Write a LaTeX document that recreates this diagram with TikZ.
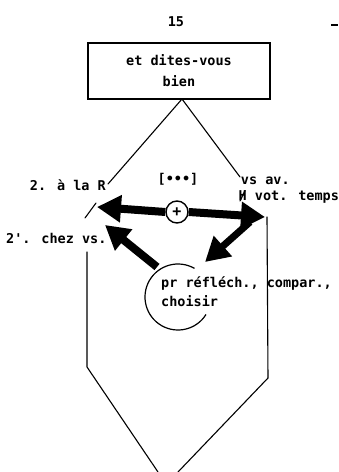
\documentclass[tikz,border=0pt]{standalone}
\usepackage{fontspec}
\setmainfont{DejaVu Sans Mono}
\usetikzlibrary{arrows.meta}
\begin{document}
\begin{tikzpicture}[x=1pt,y=1pt,
  lbl/.style={inner sep=0pt, font=\bfseries\fontsize{13.5}{16}\selectfont},
  edge/.style={line width=1.1pt, line cap=round},
  bigarrow/.style={line width=8pt, -{Triangle[length=24pt,width=26pt]}},
  plusring/.style={circle, draw, line width=1.4pt, fill=white, minimum size=22pt, inner sep=0pt, font=\bfseries\fontsize{15}{15}\selectfont}]
\useasboundingbox (0,0) rectangle (338,472);

% page number and margin mark
\node[lbl] (pg) at (176,450) {15};
\coordinate (mk1) at (331,447);
\coordinate (mk2) at (338,447);
\draw[line width=2.5pt] (mk1) -- (mk2);

% title box
\node[draw, line width=1.2pt, minimum width=182pt, minimum height=56pt, align=center,
      font=\bfseries\fontsize{13.5}{21}\selectfont] (box) at (179,401) {et dites-vous\\bien};

% outline of the hexagon
\coordinate (apex) at (182,373);
\coordinate (L1) at (108,288);
\coordinate (T1) at (96,269);
\coordinate (T2) at (85,254);
\coordinate (L2) at (87,220);
\coordinate (L3) at (87,105);
\coordinate (B1) at (158,0);
\coordinate (R1) at (240,295);
\coordinate (R2) at (267,255);
\coordinate (R3) at (268,94);
\coordinate (B2) at (178,0);
\draw[edge] (L1) -- (apex) -- (R1);
\draw[edge] (T1) -- (T2);
\draw[edge] (L2) -- (L3) -- (B1);
\draw[edge] (R2) -- (R3) -- (B2);

% labels round the top
\node[lbl, anchor=east] (alaR) at (106,287) {2. à la R};
\node[lbl, anchor=west, align=left] (vsav) at (238.5,282) {\,vs av.\\\rlap{H}/ vot. temps};
\node[lbl] (dots) at (178,293) {[•••]};
\node[lbl, anchor=west] (chez) at (6,234) {2\textquotesingle. chez vs.};

% the plus ring and its two arrows
\node[plusring] (plus) at (177,260) {+};
\coordinate (tipL) at (97,265);
\coordinate (tipR) at (265,255);
\draw[bigarrow] (plus.west) -- (tipL);
\draw[bigarrow] (plus.east) -- (tipR);

% thinking circle
\coordinate (cc) at (178,175);
\draw[line width=1.2pt] ([shift={(60:33)}]cc) arc[start angle=60, end angle=328, radius=33];
\node[lbl, anchor=west, align=left, font=\bfseries\fontsize{13.5}{19}\selectfont] (think) at (161,180)
  {pr réfléch., compar.,\\choisir};

% arrows to and from the thinking circle
\coordinate (tailA) at (157,205);
\coordinate (tipA) at (105,247);
\coordinate (tailB) at (250,250);
\coordinate (tipB) at (205,210);
\draw[bigarrow] (tailA) -- (tipA);
\draw[bigarrow, line width=7pt] (tailB) -- (tipB);
\end{tikzpicture}
\end{document}
